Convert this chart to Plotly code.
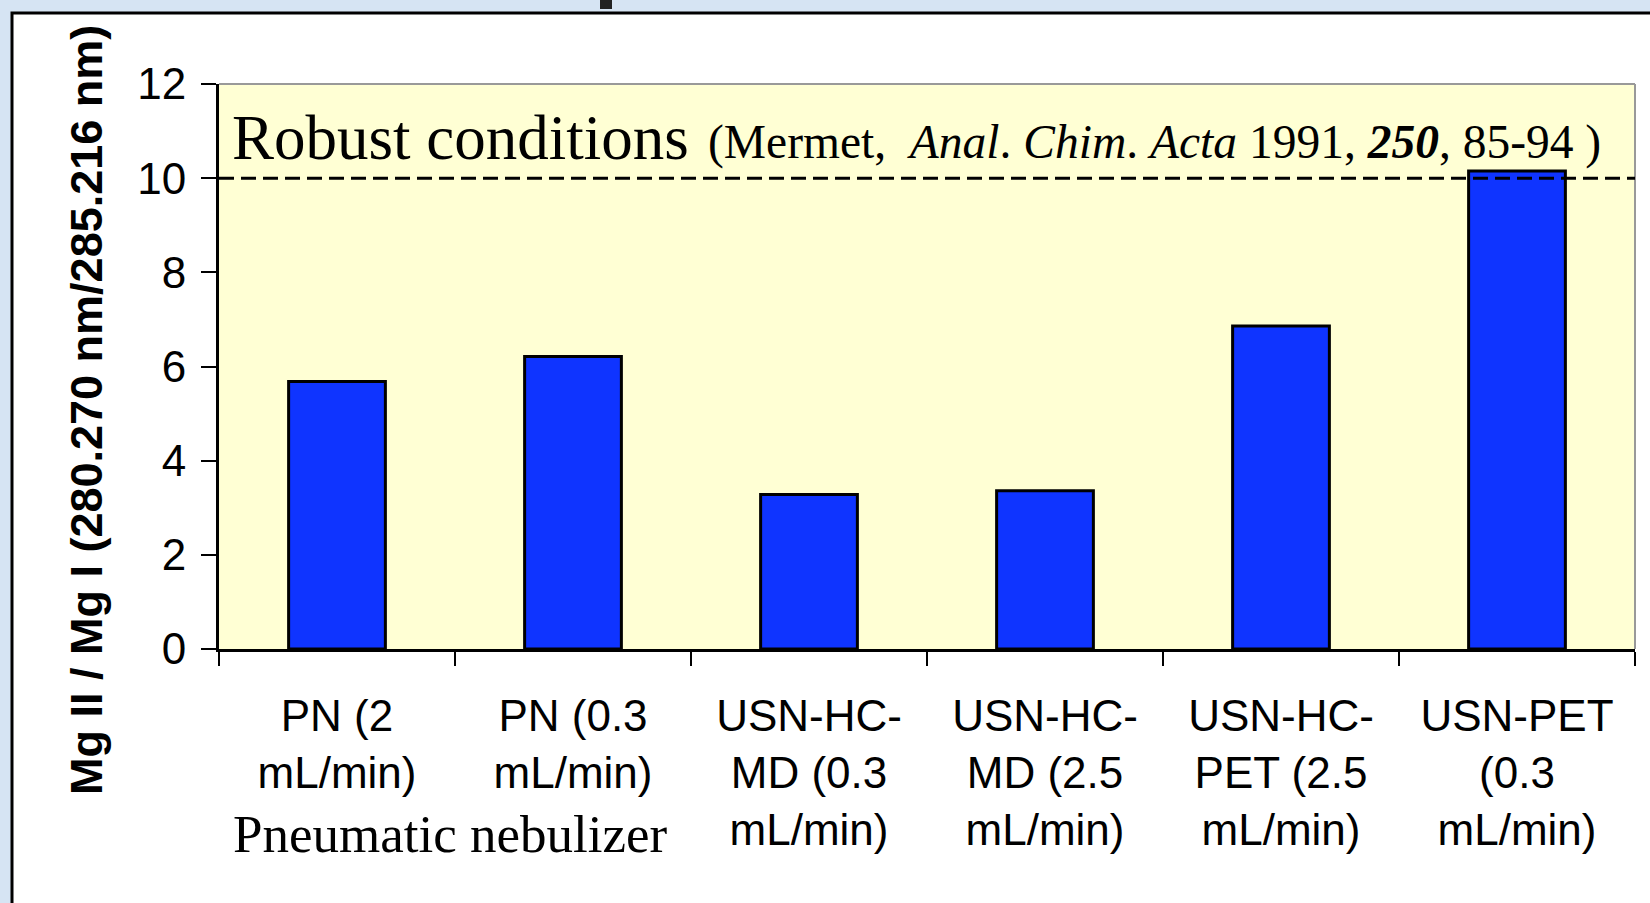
import plotly.graph_objects as go

categories = [
    "PN (2<br>mL/min)",
    "PN (0.3<br>mL/min)",
    "USN-HC-<br>MD (0.3<br>mL/min)",
    "USN-HC-<br>MD (2.5<br>mL/min)",
    "USN-HC-<br>PET (2.5<br>mL/min)",
    "USN-PET<br>(0.3<br>mL/min)",
]
ratio_values = [5.68, 6.21, 3.28, 3.36, 6.86, 10.15]
y_ticks = [0, 2, 4, 6, 8, 10, 12]
robust_threshold = 10

W, H = 1650, 903
L, R, T, B = 219, 1650 - 1635, 84, 903 - 649
PW, PH = W - L - R, H - T - B


def px_x(x):
    return (x - L) / PW


def px_y(y):
    return (H - B - y) / PH


fig = go.Figure()
fig.add_trace(go.Bar(
    x=categories, y=ratio_values,
    marker=dict(color="#0f34ff", line=dict(color="black", width=3)),
    showlegend=False, hoverinfo="x+y",
))

shapes = [
    # white frame of the slide panel
    dict(type="rect", xref="paper", yref="paper", layer="below",
         x0=px_x(12), x1=px_x(1700), y0=px_y(1000), y1=px_y(13),
         fillcolor="white", line=dict(color="black", width=3)),
    # plot area background
    dict(type="rect", xref="paper", yref="paper", layer="below",
         x0=0, x1=1, y0=0, y1=1, fillcolor="#ffffd4", line=dict(width=0)),
    # gray top and right border
    dict(type="line", xref="paper", yref="paper", layer="below",
         x0=0, x1=1, y0=1, y1=1, line=dict(color="#999999", width=2)),
    dict(type="line", xref="paper", yref="paper", layer="below",
         x0=1, x1=1, y0=0, y1=1, line=dict(color="#999999", width=2)),
    # robust conditions threshold
    dict(type="line", xref="paper", yref="y", layer="above",
         x0=0, x1=1, y0=robust_threshold, y1=robust_threshold,
         line=dict(color="black", width=3, dash="15px,7px")),
    # cut-off fragment of slide title at top
    dict(type="rect", xref="paper", yref="paper", layer="below",
         x0=px_x(600), x1=px_x(612), y0=px_y(9), y1=px_y(-2),
         fillcolor="#222222", line=dict(width=0)),
]

annotations = [
    dict(text="<b>Mg II / Mg I (280.270 nm/285.216 nm)</b>", textangle=-90,
         xref="paper", yref="paper", x=px_x(86), y=px_y(410),
         xanchor="center", yanchor="middle", showarrow=False,
         font=dict(family="Liberation Sans, Arial", size=45, color="black")),
    dict(text="Robust conditions", xref="paper", yref="paper",
         x=px_x(230), y=px_y(138), xanchor="left", yanchor="middle",
         showarrow=False,
         font=dict(family="Liberation Serif, Times New Roman", size=63, color="black")),
    dict(text="(Mermet,  <i>Anal</i>. <i>Chim</i>. <i>Acta</i> 1991, <b><i>250</i></b>, 85-94 )",
         xref="paper", yref="paper",
         x=px_x(706), y=px_y(142), xanchor="left", yanchor="middle",
         showarrow=False,
         font=dict(family="Liberation Serif, Times New Roman", size=47.5, color="black")),
    dict(text="Pneumatic nebulizer", xref="paper", yref="paper",
         x=px_x(450), y=px_y(834), xanchor="center", yanchor="middle",
         showarrow=False,
         font=dict(family="Liberation Serif, Times New Roman", size=53, color="black")),
]

fig.update_layout(
    width=W, height=H,
    margin=dict(l=L, r=R, t=T, b=B, pad=0),
    paper_bgcolor="#d6e4f3",
    plot_bgcolor="rgba(0,0,0,0)",
    bargap=0.59,
    shapes=shapes,
    annotations=annotations,
    font=dict(family="Liberation Sans, Arial", size=44, color="black"),
    xaxis=dict(
        type="category", tickson="boundaries", ticks="outside", ticklen=14,
        tickwidth=2, tickcolor="black", showline=True, linecolor="black",
        linewidth=3, showgrid=False, ticklabelstandoff=26,
        tickfont=dict(family="Liberation Sans, Arial", size=44, color="black"),
    ),
    yaxis=dict(
        range=[0, 12], tickvals=y_ticks, ticks="outside", ticklen=15,
        tickwidth=2, tickcolor="black", showline=True, linecolor="black",
        linewidth=3, showgrid=False, zeroline=False, ticklabelstandoff=6,
        tickfont=dict(family="Liberation Sans, Arial", size=44, color="black"),
    ),
)

fig.write_html("out.html", config={"displayModeBar": False},
               post_script="document.body.style.margin='0';")
